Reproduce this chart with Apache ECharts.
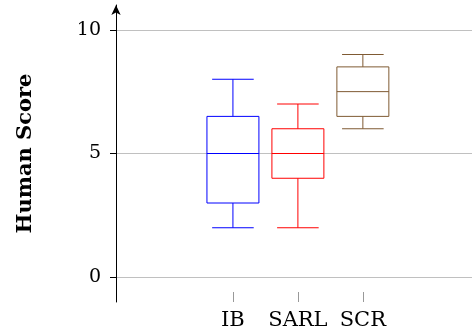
<!DOCTYPE html>
<html>
<head>
<meta charset="utf-8">
<script src="https://cdn.jsdelivr.net/npm/echarts@6/dist/echarts.min.js"></script>
<style>
  html, body { margin: 0; padding: 0; background: #fff; }
  #chart { width: 472px; height: 335px; }
</style>
</head>
<body>
<div id="chart"></div>
<script>
  // 数据
  const categories = ['IB', 'SARL', 'SCR']
  const positions = [1, 2, 3]
  const minVals = [2, 2, 6]
  const q1Vals = [3, 4, 6.5]
  const medianVals = [5, 5, 7.5]
  const q3Vals = [6.5, 6, 8.5]
  const maxVals = [8, 7, 9]
  const boxColors = ['#0000ff', '#ff0000', '#7f5a33']
  const yTicks = [0, 5, 10]

  const seriesData = positions.map((p, i) => [p, minVals[i], q1Vals[i], medianVals[i], q3Vals[i], maxVals[i]])

  const serifFont = '"DejaVu Serif", "Liberation Serif", serif'

  function renderBox (params, api) {
    let x = api.value(0)
    let color = boxColors[params.dataIndex]
    let pMin = api.coord([x, api.value(1)])
    let pQ1 = api.coord([x, api.value(2)])
    let pMed = api.coord([x, api.value(3)])
    let pQ3 = api.coord([x, api.value(4)])
    let pMax = api.coord([x, api.value(5)])
    let boxHalf = api.size([0.4, 0])[0]
    let capHalf = api.size([0.32, 0])[0]
    let style = { stroke: color, lineWidth: 1, fill: null }
    let line = (x1, y1, x2, y2) => ({ type: 'line', shape: { x1, y1, x2, y2 }, style })
    return {
      type: 'group',
      children: [
        { type: 'rect', shape: { x: pQ3[0] - boxHalf, y: pQ3[1], width: boxHalf * 2, height: pQ1[1] - pQ3[1] }, style },
        line(pMed[0] - boxHalf, pMed[1], pMed[0] + boxHalf, pMed[1]),
        line(pMax[0], pMax[1], pQ3[0], pQ3[1]),
        line(pMin[0], pMin[1], pQ1[0], pQ1[1]),
        line(pMax[0] - capHalf, pMax[1], pMax[0] + capHalf, pMax[1]),
        line(pMin[0] - capHalf, pMin[1], pMin[0] + capHalf, pMin[1])
      ]
    }
  }

  let chart = echarts.init(document.getElementById('chart'))
  chart.setOption({
    animation: false,
    grid: {
      left: 116,
      right: 0,
      top: 5,
      bottom: 33,
      containLabel: false
    },
    xAxis: {
      type: 'value',
      min: -0.8,
      max: 4.68,
      axisLine: { show: false, onZero: false },
      splitLine: { show: false },
      axisTick: {
        show: true,
        inside: true,
        length: 10,
        customValues: positions,
        lineStyle: { color: '#999999', width: 1 }
      },
      axisLabel: {
        customValues: positions,
        margin: 8,
        color: '#000',
        fontFamily: serifFont,
        fontSize: 21,
        formatter: (v) => categories[Math.round(v) - 1] || ''
      }
    },
    yAxis: {
      type: 'value',
      min: -1,
      max: 11,
      name: 'Human Score',
      nameLocation: 'middle',
      nameGap: 80,
      nameTextStyle: {
        color: '#000',
        fontFamily: serifFont,
        fontWeight: 'bold',
        fontSize: 21
      },
      axisLine: {
        show: true,
        onZero: false,
        symbol: ['none', 'arrow'],
        symbolSize: [7, 10],
        lineStyle: { color: '#000', width: 1 }
      },
      axisTick: {
        show: true,
        length: 6,
        customValues: yTicks,
        lineStyle: { color: '#000' }
      },
      axisLabel: {
        customValues: yTicks,
        margin: 15,
        color: '#000',
        fontFamily: serifFont,
        fontSize: 19
      },
      splitLine: {
        show: true,
        lineStyle: { color: '#c0c0c0', width: 1 }
      }
    },
    series: [
      {
        type: 'custom',
        renderItem: renderBox,
        encode: { x: 0, y: [1, 2, 3, 4, 5] },
        data: seriesData
      }
    ]
  })
</script>
</body>
</html>
